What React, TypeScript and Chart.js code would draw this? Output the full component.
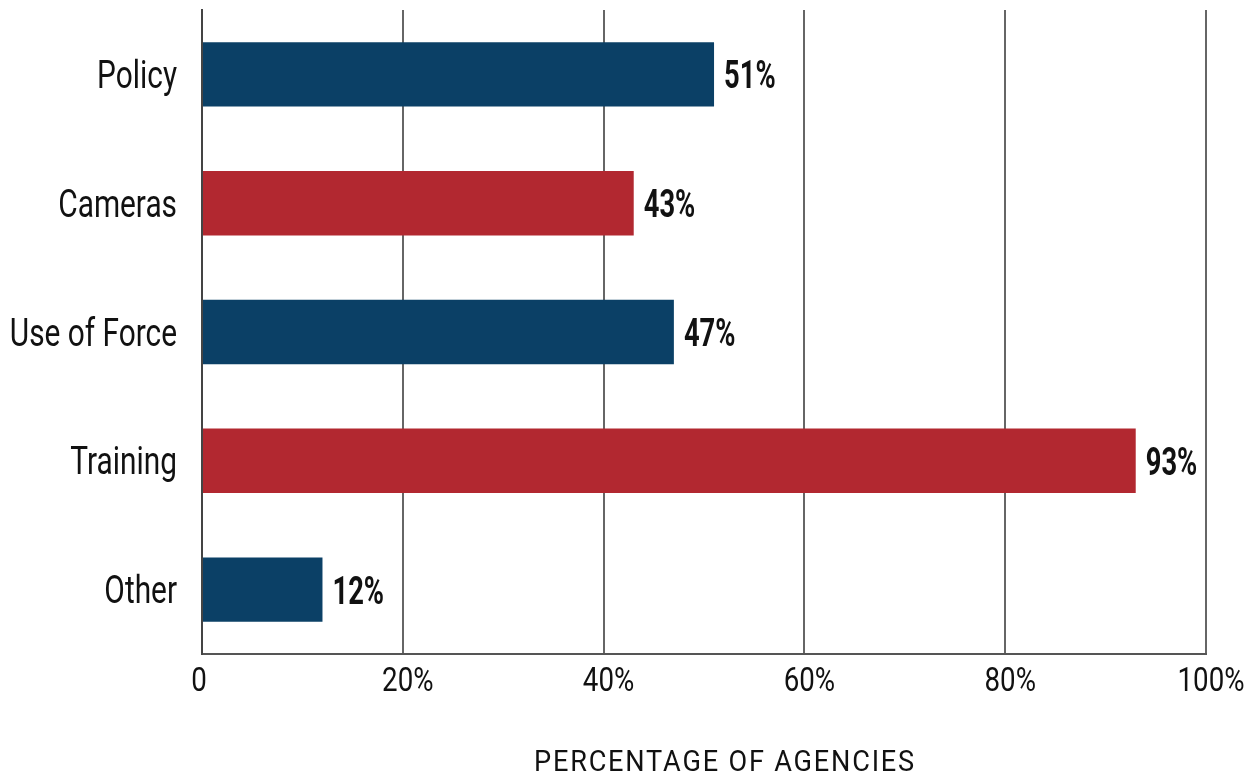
import React, { useEffect, useRef } from "react";
import { Chart, registerables } from "chart.js";

Chart.register(...registerables);

const categories = ["Policy", "Cameras", "Use of Force", "Training", "Other"];
const values = [51, 43, 47, 93, 12];
const barColors = ["#0B4066", "#B22830", "#0B4066", "#B22830", "#0B4066"];
const xTickLabels = ["0", "20%", "40%", "60%", "80%", "100%"];
const xTitle = "PERCENTAGE OF AGENCIES";

const FONT = "Roboto, 'Noto Sans', sans-serif";

function drawScaled(
  ctx: CanvasRenderingContext2D,
  text: string,
  x: number,
  y: number,
  align: CanvasTextAlign,
  sx: number
) {
  ctx.save();
  ctx.translate(x, y);
  ctx.scale(sx, 1);
  ctx.textAlign = align;
  ctx.textBaseline = "alphabetic";
  ctx.fillText(text, 0, 0);
  ctx.restore();
}

const textPlugin = {
  id: "condensedText",
  afterDraw(chart: any) {
    const { ctx, chartArea } = chart;
    const xs = chart.scales.x;
    const ys = chart.scales.y;
    const meta = chart.getDatasetMeta(0);
    ctx.save();
    ctx.fillStyle = "#111";

    // category labels
    ctx.font = `38px ${FONT}`;
    categories.forEach((c, i) => {
      const y = ys.getPixelForTick(i);
      drawScaled(ctx, c, chartArea.left - 25, y + 13.5, "right", 0.785);
    });

    // x tick labels
    ctx.font = `33px ${FONT}`;
    xs.ticks.forEach((_t: any, i: number) => {
      const label = xTickLabels[i];
      const x = xs.getPixelForTick(i) + (label.endsWith("%") ? 5 : -3);
      drawScaled(ctx, label, x, chartArea.bottom + 37, "center", 0.84);
    });

    // value labels
    ctx.font = `bold 38px ${FONT}`;
    meta.data.forEach((bar: any, i: number) => {
      drawScaled(ctx, values[i] + "%", bar.x + 10, bar.y + 14, "left", 0.72);
    });

    // axis title
    ctx.font = `30px ${FONT}`;
    (ctx as any).letterSpacing = "2px";
    const w = ctx.measureText(xTitle).width;
    const sx = 382 / w;
    drawScaled(ctx, xTitle, (chartArea.left + chartArea.right) / 2 + 21, 771, "center", sx);
    ctx.restore();
  },
};

export default function App() {
  const ref = useRef<HTMLCanvasElement>(null);
  useEffect(() => {
    if (!ref.current) return;
    const chart = new Chart(ref.current, {
      type: "bar",
      data: {
        labels: categories,
        datasets: [
          {
            data: values,
            backgroundColor: barColors,
            borderWidth: 0,
            barPercentage: 0.5,
            categoryPercentage: 1,
          },
        ],
      },
      options: {
        indexAxis: "y",
        animation: false,
        responsive: false,
        layout: { padding: { top: 10, right: 45, bottom: 0, left: 0 } },
        plugins: { legend: { display: false }, tooltip: { enabled: false } },
        scales: {
          x: {
            min: 0,
            max: 100,
            ticks: { stepSize: 20, display: false },
            grid: { display: true, color: "#666", lineWidth: 2, drawTicks: false },
            border: { display: true, color: "#555", width: 2 },
            afterFit: (s: any) => {
              s.height = 123;
              s.paddingLeft = 0;
              s.paddingRight = 0;
            },
          },
          y: {
            ticks: { display: false },
            grid: { display: false, drawTicks: false },
            border: { display: true, color: "#444", width: 2 },
            afterFit: (s: any) => {
              s.width = 202;
              s.paddingTop = 0;
              s.paddingBottom = 0;
            },
          },
        },
      },
      plugins: [textPlugin],
    });
    return () => chart.destroy();
  }, []);
  return (
    <div style={{ position: "absolute", left: 0, top: 0, width: 1251, height: 777, background: "#fff" }}>
      <canvas ref={ref} width={1251} height={777} />
    </div>
  );
}
